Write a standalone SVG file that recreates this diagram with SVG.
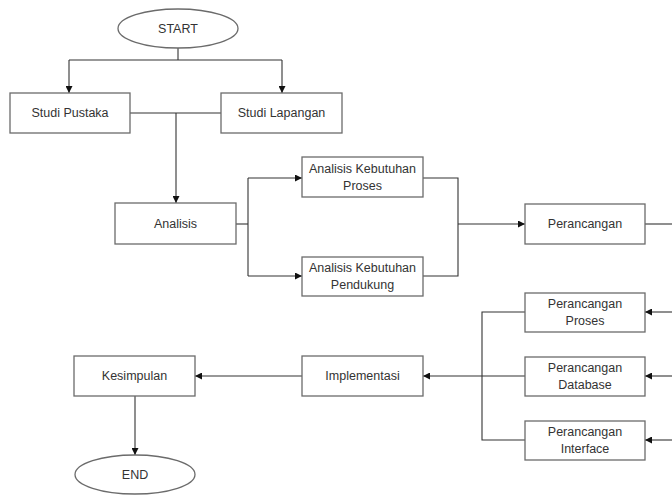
<svg xmlns="http://www.w3.org/2000/svg" width="672" height="495" viewBox="0 0 672 495">
<style>
.n{fill:#fff;stroke:#6b6b6b;stroke-width:1.3}
.t{font-family:"Liberation Sans",Arial,sans-serif;font-size:12.5px;fill:#333;text-anchor:middle;dominant-baseline:central}
.c{fill:none;stroke:#333;stroke-width:1.1}
</style>
<defs>
<marker id="a" viewBox="0 0 10 10" refX="10" refY="5" markerWidth="7" markerHeight="7" markerUnits="userSpaceOnUse" orient="auto">
<path d="M0,0 L10,5 L0,10 z" fill="#111"/>
</marker>
</defs>
<rect width="672" height="495" fill="#fff"/>
<g id="connectors">
<path class="c" d="M178,48 V60"/>
<path class="c" d="M69,60 H282"/>
<path class="c" d="M69,60 V93" marker-end="url(#a)"/>
<path class="c" d="M282,60 V93" marker-end="url(#a)"/>
<path class="c" d="M130,113 H221"/>
<path class="c" d="M176,113 V203" marker-end="url(#a)"/>
<path class="c" d="M236,224 H248"/>
<path class="c" d="M248,178 V276"/>
<path class="c" d="M248,178 H302" marker-end="url(#a)"/>
<path class="c" d="M248,276 H302" marker-end="url(#a)"/>
<path class="c" d="M423,178 H458 V276 H423"/>
<path class="c" d="M458,224 H525" marker-end="url(#a)"/>
<path class="c" d="M645,224 H672"/>
<path class="c" d="M672,312 H645" marker-end="url(#a)"/>
<path class="c" d="M672,376 H645" marker-end="url(#a)"/>
<path class="c" d="M672,440 H645" marker-end="url(#a)"/>
<path class="c" d="M525,312 H482 V440 H525"/>
<path class="c" d="M525,376 H423" marker-end="url(#a)"/>
<path class="c" d="M302,376 H195" marker-end="url(#a)"/>
<path class="c" d="M135,396 V455" marker-end="url(#a)"/>
</g>
<g id="start"><ellipse class="n" cx="178" cy="28.5" rx="60" ry="19.5"/><text class="t" x="178" y="28.5">START</text></g>
<g id="studi-pustaka"><rect class="n" x="10" y="93" width="120" height="40"/><text class="t" x="70" y="113">Studi Pustaka</text></g>
<g id="studi-lapangan"><rect class="n" x="221" y="93" width="121" height="40"/><text class="t" x="281.5" y="113">Studi Lapangan</text></g>
<g id="analisis"><rect class="n" x="115" y="203" width="121" height="41"/><text class="t" x="175.5" y="224">Analisis</text></g>
<g id="akb-proses"><rect class="n" x="302" y="157" width="121" height="40"/><text class="t" x="362.5" y="169">Analisis Kebutuhan</text><text class="t" x="362.5" y="186">Proses</text></g>
<g id="akb-pendukung"><rect class="n" x="302" y="257" width="121" height="39"/><text class="t" x="362.5" y="268">Analisis Kebutuhan</text><text class="t" x="362.5" y="285">Pendukung</text></g>
<g id="perancangan"><rect class="n" x="525" y="204" width="120" height="40"/><text class="t" x="585" y="224">Perancangan</text></g>
<g id="perancangan-proses"><rect class="n" x="525" y="293" width="120" height="39"/><text class="t" x="585" y="304">Perancangan</text><text class="t" x="585" y="321">Proses</text></g>
<g id="perancangan-database"><rect class="n" x="525" y="357" width="120" height="39"/><text class="t" x="585" y="368">Perancangan</text><text class="t" x="585" y="385">Database</text></g>
<g id="perancangan-interface"><rect class="n" x="525" y="421" width="120" height="39"/><text class="t" x="585" y="432">Perancangan</text><text class="t" x="585" y="449">Interface</text></g>
<g id="implementasi"><rect class="n" x="302" y="356" width="121" height="40"/><text class="t" x="362.5" y="376">Implementasi</text></g>
<g id="kesimpulan"><rect class="n" x="74" y="356" width="121" height="40"/><text class="t" x="134.5" y="376">Kesimpulan</text></g>
<g id="end"><ellipse class="n" cx="135" cy="474.5" rx="60" ry="19.5"/><text class="t" x="135" y="474.5">END</text></g>
</svg>
